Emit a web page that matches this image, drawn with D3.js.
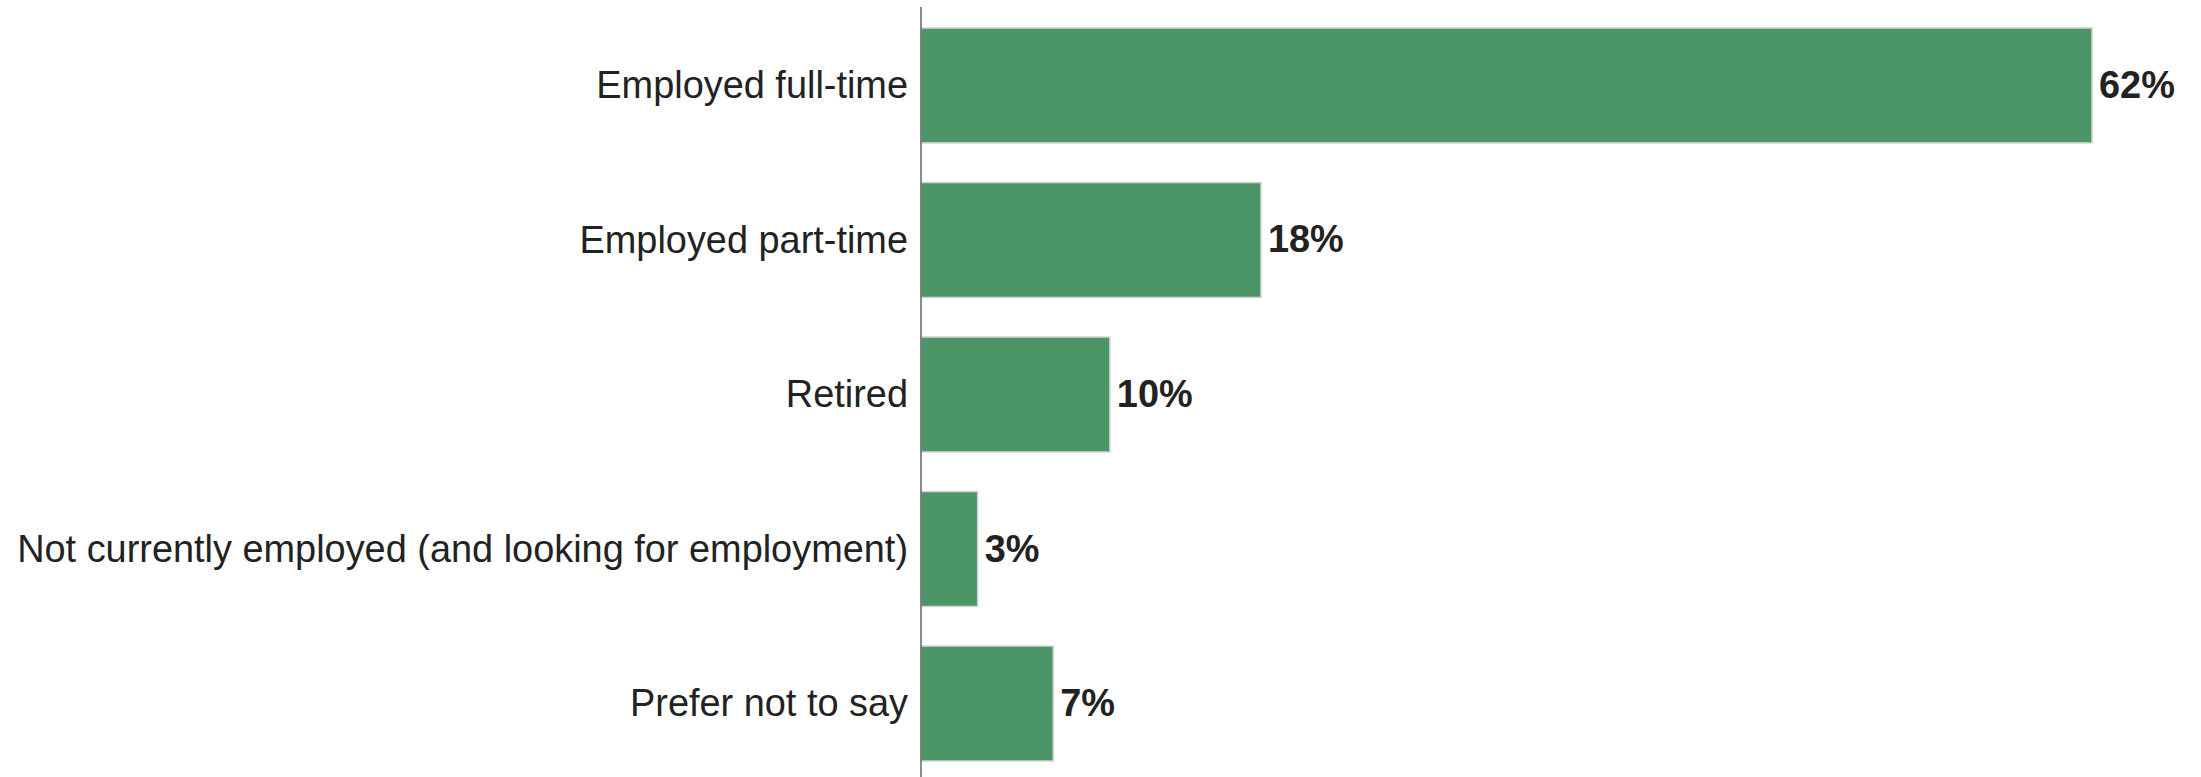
<!DOCTYPE html>
<html>
<head>
<meta charset="utf-8">
<script src="https://cdn.jsdelivr.net/npm/d3@7/dist/d3.min.js"></script>
<style>
  html, body { margin: 0; padding: 0; background: #fff; }
  svg { display: block; }
</style>
</head>
<body>
<div id="chart"></div>
<script>
const Width = 2201;
const Height = 777;

// data
const categories = [
  'Employed full-time',
  'Employed part-time',
  'Retired',
  'Not currently employed (and looking for employment)',
  'Prefer not to say'
];
const values = [62, 18, 10, 3, 7];
const valueLabels = ['62%', '18%', '10%', '3%', '7%'];

const AxisX = 921;
const BarMaxX = 2092;
const BarTop = 28;
const BarBottom = 761;
const FontSize = 37.9;

const rows = categories.map((c, i) => ({ name: c, value: values[i], label: valueLabels[i] }));

const svg = d3.select('#chart').
  append('svg').
  attr('width', Width).
  attr('height', Height);

// scales
const x = d3.scaleLinear().
  domain([0, d3.max(values)]).
  range([AxisX, BarMaxX]);

const y = d3.scaleBand().
  domain(categories).
  range([BarTop, BarBottom]).
  paddingInner(0.256).
  paddingOuter(0);

// bars
svg.selectAll('rect.bar').
  data(rows).
  enter().
  append('rect').
  attr('class', 'bar').
  attr('x', x(0)).
  attr('y', d => y(d.name)).
  attr('width', d => x(d.value) - x(0)).
  attr('height', y.bandwidth()).
  attr('fill', '#4a9667').
  attr('stroke', '#d2d2d2').
  attr('stroke-width', 1.5);

// value labels
svg.selectAll('text.value').
  data(rows).
  enter().
  append('text').
  attr('class', 'value').
  attr('x', d => x(d.value) + 7).
  attr('y', d => y(d.name) + y.bandwidth() / 2).
  attr('dy', '0.33em').
  attr('fill', '#222').
  style('font-family', '"Liberation Sans", Arial, sans-serif').
  style('font-size', FontSize + 'px').
  style('font-weight', 'bold').
  text(d => d.label);

// category axis
const yAxis = d3.axisLeft(y).tickSize(0).tickPadding(13);
const axisG = svg.append('g').
  attr('transform', 'translate(' + AxisX + ',0)').
  call(yAxis);

axisG.select('.domain').remove();
axisG.selectAll('text').
  attr('fill', '#222').
  attr('dy', '0.33em').
  style('font-family', '"Liberation Sans", Arial, sans-serif').
  style('font-size', FontSize + 'px');

// vertical axis line
svg.append('line').
  attr('x1', AxisX).
  attr('x2', AxisX).
  attr('y1', 7).
  attr('y2', Height).
  attr('stroke', '#666').
  attr('stroke-width', 1.5);
</script>
</body>
</html>
